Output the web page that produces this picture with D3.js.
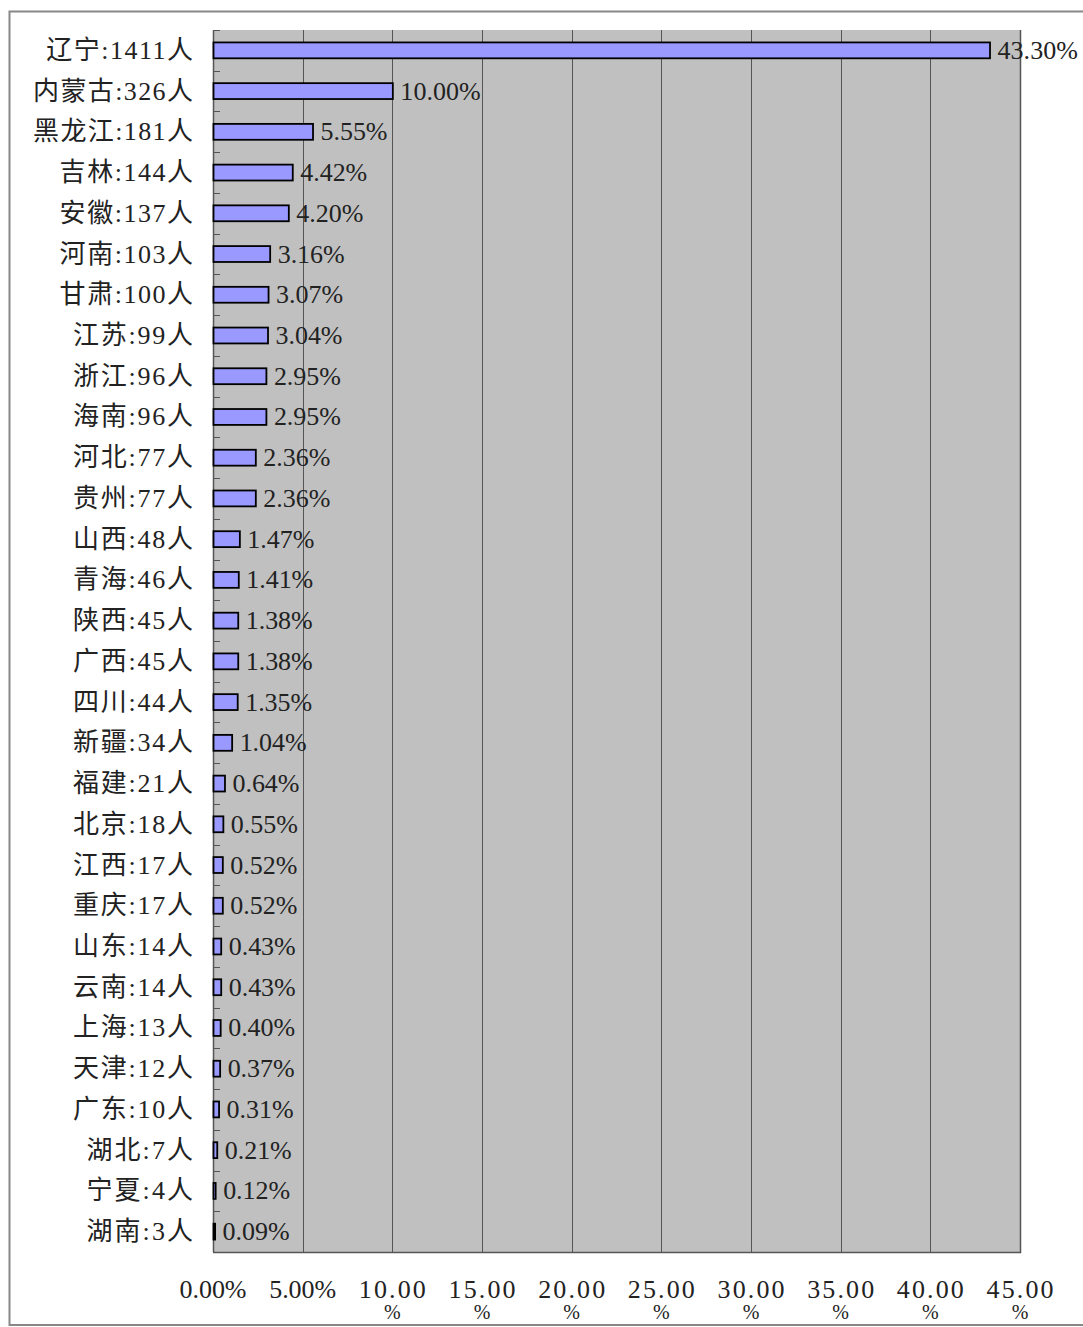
<!DOCTYPE html>
<html>
<head>
<meta charset="utf-8">
<script src="https://cdn.jsdelivr.net/npm/d3@7"></script>
<style>
  html, body { margin: 0; padding: 0; background: #fff; }
  svg { display: block; }
</style>
</head>
<body>
<svg id="chart" width="1083" height="1327"></svg>
<script>
const provinces = ["辽宁","内蒙古","黑龙江","吉林","安徽","河南","甘肃","江苏","浙江","海南",
  "河北","贵州","山西","青海","陕西","广西","四川","新疆","福建","北京",
  "江西","重庆","山东","云南","上海","天津","广东","湖北","宁夏","湖南"];
const counts = [1411,326,181,144,137,103,100,99,96,96,
  77,77,48,46,45,45,44,34,21,18,
  17,17,14,14,13,12,10,7,4,3];
const percents = [43.30,10.00,5.55,4.42,4.20,3.16,3.07,3.04,2.95,2.95,
  2.36,2.36,1.47,1.41,1.38,1.38,1.35,1.04,0.64,0.55,
  0.52,0.52,0.43,0.43,0.40,0.37,0.31,0.21,0.12,0.09];
const xTicks = [0,5,10,15,20,25,30,35,40,45];

const categories = provinces.map((p, i) => p + ":" + counts[i] + "人");
const data = categories.map((c, i) => ({ cat: c, v: percents[i] }));

const svg = d3.select("#chart");
const FONT = "'Liberation Serif', 'Noto Sans CJK SC', serif";
const FS = 26;
const half = 13.4, full = 26.6;
const isWide = ch => /[\u2E80-\u9FFF\uFF00-\uFFEF]/.test(ch);
const textLen = s => Array.from(s).reduce((a, ch) => a + (isWide(ch) ? full : half), 0);

const plot = { left: 213, right: 1020, top: 30, bottom: 1252 };

const x = d3.scaleLinear().domain([0, 45]).range([plot.left, plot.right]);
const y = d3.scaleBand().domain(categories).range([plot.top, plot.bottom])
  .paddingInner(0.61).paddingOuter(0.305);

svg.append("defs").append("clipPath").attr("id", "frameClip")
  .append("rect").attr("x", 0).attr("y", 0).attr("width", 1083).attr("height", 1325);

const root = svg.append("g").attr("clip-path", "url(#frameClip)");

// plot background
root.append("rect")
  .attr("x", plot.left).attr("y", plot.top)
  .attr("width", plot.right - plot.left).attr("height", plot.bottom - plot.top)
  .attr("fill", "#c0c0c0");

// vertical gridlines
root.append("g").selectAll("line").data(xTicks.filter(t => t > 0 && t < 45)).join("line")
  .attr("x1", d => Math.round(x(d)) + 0.5).attr("x2", d => Math.round(x(d)) + 0.5)
  .attr("y1", plot.top).attr("y2", plot.bottom)
  .attr("stroke", "#555").attr("stroke-width", 1);

// plot border right and bottom
root.append("path")
  .attr("d", `M${plot.right + 0.5},${plot.top} V${plot.bottom + 0.5} H${plot.left}`)
  .attr("fill", "none").attr("stroke", "#555").attr("stroke-width", 1.5);

// left axis line + inward ticks at category boundaries
root.append("line")
  .attr("x1", plot.left + 0.5).attr("x2", plot.left + 0.5)
  .attr("y1", plot.top).attr("y2", plot.bottom)
  .attr("stroke", "#555").attr("stroke-width", 1.5);
const bounds = d3.range(categories.length + 1).map(i => plot.top + i * y.step());
root.append("g").selectAll("line").data(bounds).join("line")
  .attr("x1", plot.left).attr("x2", plot.left + 7)
  .attr("y1", d => Math.round(d) + 0.5).attr("y2", d => Math.round(d) + 0.5)
  .attr("stroke", "#555").attr("stroke-width", 1);

// bars
root.append("g").selectAll("rect").data(data).join("rect")
  .attr("x", x(0) + 0.5)
  .attr("y", d => y(d.cat))
  .attr("width", d => Math.max(0, x(d.v) - x(0)))
  .attr("height", y.bandwidth())
  .attr("fill", "#9999ff")
  .attr("stroke", "#000").attr("stroke-width", 1.8);

// value labels
root.append("g").selectAll("text").data(data).join("text")
  .attr("x", d => x(d.v) + 8)
  .attr("y", d => y(d.cat) + y.bandwidth() / 2)
  .attr("dominant-baseline", "central")
  .attr("font-family", FONT).attr("font-size", FS).attr("fill", "#222")
  .attr("textLength", d => textLen(d.v.toFixed(2) + "%"))
  .attr("lengthAdjust", "spacing")
  .text(d => d.v.toFixed(2) + "%");

// category labels
root.append("g").selectAll("text").data(data).join("text")
  .attr("x", 193)
  .attr("y", d => y(d.cat) + y.bandwidth() / 2)
  .attr("text-anchor", "end")
  .attr("dominant-baseline", "central")
  .attr("font-family", FONT).attr("font-size", FS).attr("fill", "#222")
  .attr("textLength", d => textLen(d.cat))
  .attr("lengthAdjust", "spacing")
  .text(d => d.cat);

// x tick labels (wrapped like the original)
const tickG = root.append("g").selectAll("g").data(xTicks).join("g")
  .attr("transform", d => `translate(${x(d)},0)`);
tickG.each(function(d) {
  const g = d3.select(this);
  const s = d.toFixed(2) + "%";
  const lines = d >= 10 ? [d.toFixed(2), "%"] : [s];
  lines.forEach((ln, i) => {
    g.append("text")
      .attr("x", 0).attr("y", i === 0 ? 1289 : 1312)
      .attr("text-anchor", "middle")
      .attr("dominant-baseline", "central")
      .attr("font-family", FONT).attr("font-size", i === 0 ? FS : 20).attr("fill", "#222")
      .attr("textLength", textLen(ln))
      .attr("lengthAdjust", "spacing")
      .text(ln);
  });
});

// outer frame
svg.append("rect")
  .attr("x", 9.5).attr("y", 11.5)
  .attr("width", 1090).attr("height", 1313.5)
  .attr("fill", "none").attr("stroke", "#888").attr("stroke-width", 2);
</script>
</body>
</html>
